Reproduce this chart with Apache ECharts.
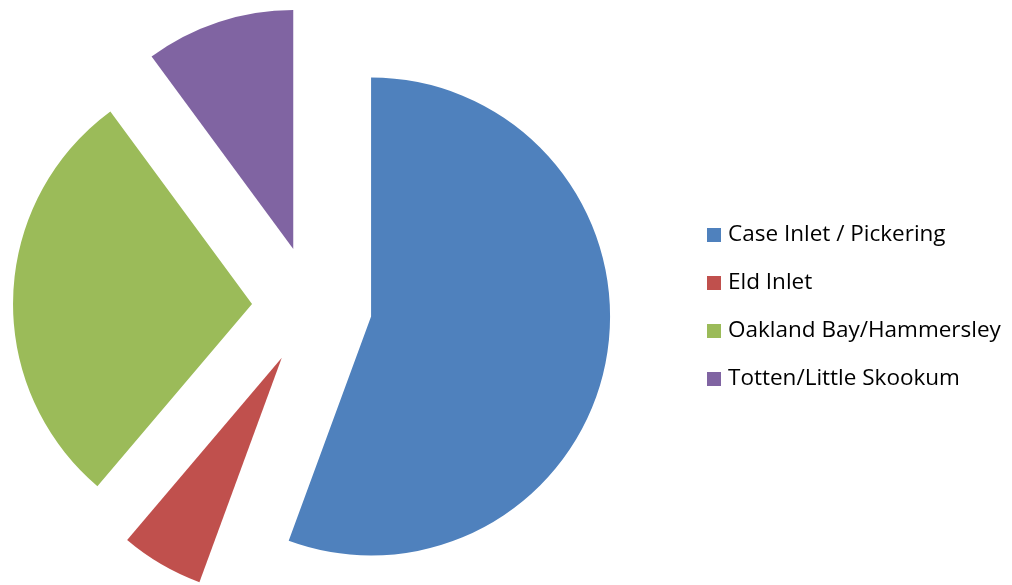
<!DOCTYPE html>
<html>
<head>
<meta charset="utf-8">
<script src="https://cdn.jsdelivr.net/npm/echarts@6/dist/echarts.min.js"></script>
<style>
  html, body { margin: 0; padding: 0; background: #fff; }
  #chart { width: 1012px; height: 585px; }
</style>
</head>
<body>
<div id="chart"></div>
<script>
  // inlet shares
  var categories = ['Case Inlet / Pickering', 'Eld Inlet', 'Oakland Bay/Hammersley', 'Totten/Little Skookum']
  var values = [55.6, 5.6, 28.7, 10.1]
  var colors = ['#4F81BD', '#C0504D', '#9BBB59', '#8064A2']

  var chart = echarts.init(document.getElementById('chart'))

  var pieData = categories.map(function (name, i) {
    return {
      name: name,
      value: values[i],
      selected: true, // every slice pulled out
      itemStyle: { color: colors[i] }
    }
  })

  chart.setOption({
    animation: false,
    color: colors,
    legend: {
      orient: 'vertical',
      left: 702,
      top: 218,
      itemWidth: 14,
      itemHeight: 14,
      itemGap: 24,
      icon: 'rect',
      data: categories,
      textStyle: {
        fontFamily: 'Open Sans',
        fontSize: 22.5,
        color: '#000',
        lineHeight: 24,
        padding: [0, 0, 0, 2]
      }
    },
    series: [{
      type: 'pie',
      center: [312, 306],
      radius: 239,
      startAngle: 90,
      clockwise: true,
      selectedMode: 'multiple',
      selectedOffset: 60,
      label: { show: false },
      labelLine: { show: false },
      itemStyle: { borderWidth: 0 },
      emphasis: { disabled: true, scale: false },
      select: { itemStyle: { borderWidth: 0 } },
      data: pieData
    }]
  })
</script>
</body>
</html>
